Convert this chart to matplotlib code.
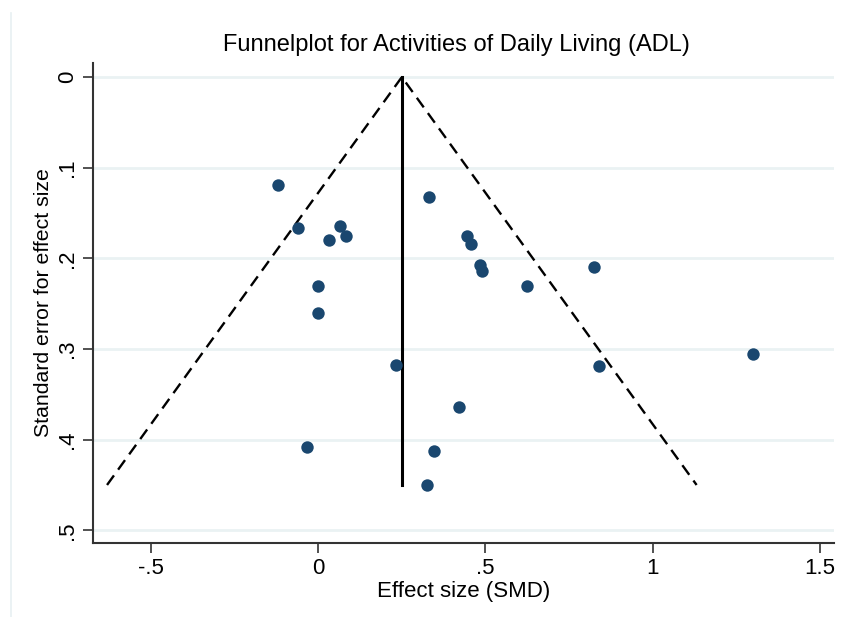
import numpy as np
import matplotlib.pyplot as plt
from matplotlib.lines import Line2D

plt.rcParams['font.family'] = ['Liberation Sans', 'DejaVu Sans']

# study effect sizes (SMD) and their standard errors
smd = [-0.120, -0.060, 0.033, 0.065, 0.082, 0.0, 0.0, -0.033, 0.232,
       0.332, 0.444, 0.456, 0.484, 0.491, 0.624, 0.824, 1.302, 0.840,
       0.422, 0.347, 0.326]
se = [0.119, 0.167, 0.180, 0.164, 0.175, 0.231, 0.260, 0.408, 0.318,
      0.1325, 0.175, 0.184, 0.207, 0.214, 0.230, 0.210, 0.306, 0.319,
      0.364, 0.412, 0.450]

pooled = 0.25   # pooled estimate
se_max = 0.45   # largest standard error

xticks = [-0.5, 0, 0.5, 1, 1.5]
xticklabels = ['-.5', '0', '.5', '1', '1.5']
yticks = [0, 0.1, 0.2, 0.3, 0.4, 0.5]
yticklabels = ['0', '.1', '.2', '.3', '.4', '.5']

fig = plt.figure(figsize=(8.42, 6.17), dpi=100)
ax = fig.add_axes([93/842, 1-543/617, (834-93)/842, (543-63)/617])

# faint left edge of Stata's graph region
fig.add_artist(Line2D([11/842, 11/842], [0, 1-13/617], color='#e8f0f2', lw=1.2))

for yt in yticks:
    ax.axhline(yt, color='#eaf2f3', lw=2, zorder=0)

# pseudo 95% confidence limits
ax.plot([pooled - 1.96*se_max, pooled, pooled + 1.96*se_max], [se_max, 0, se_max],
        color='black', ls=(0, (5, 3)), lw=1.7, zorder=2)
ax.plot([pooled, pooled], [0, se_max], color='black', lw=2.2, zorder=2)

ax.scatter(smd, se, s=80, color='#1a476f', zorder=3, linewidths=0)

ax.set_xlim(-0.674, 1.543)
ax.set_ylim(0.514, -0.0155)

ax.set_xticks(xticks)
ax.set_xticklabels(xticklabels)
ax.set_yticks(yticks)
ax.set_yticklabels(yticklabels, rotation=90, va='center')

ax.tick_params(axis='both', direction='out', length=7, width=1.2,
               labelsize=16, color='#333333', pad=4)

for s in ['top', 'right']:
    ax.spines[s].set_visible(False)
for s in ['left', 'bottom']:
    ax.spines[s].set_color('#333333')
    ax.spines[s].set_linewidth(1.5)

ax.set_xlabel('Effect size (SMD)', fontsize=16, labelpad=1)
ax.set_ylabel('Standard error for effect size', fontsize=15.3, labelpad=3)
ax.set_title('Funnelplot for Activities of Daily Living (ADL)', fontsize=17,
             pad=9, x=0.49)

fig.savefig('out.png', dpi=100)
